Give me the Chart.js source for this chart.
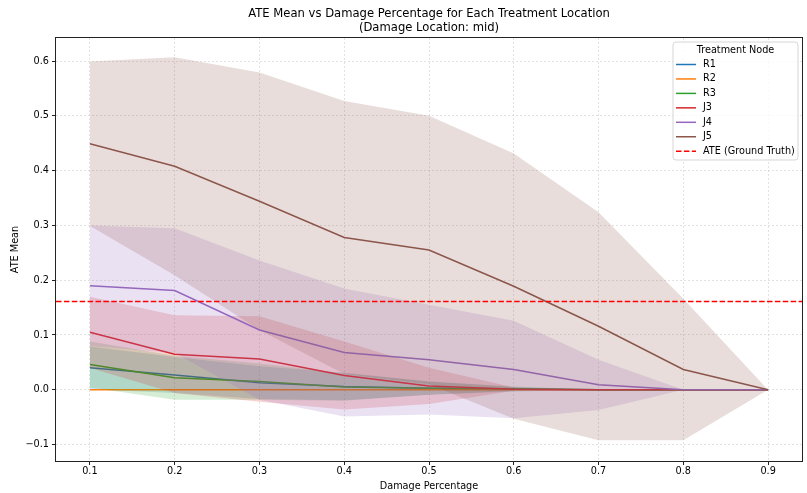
<!DOCTYPE html>
<html>
<head>
<meta charset="utf-8">
<script src="https://cdn.jsdelivr.net/npm/chart.js@4.4.1/dist/chart.umd.min.js"></script>
<style>
  html, body { margin: 0; padding: 0; background: #fff; }
  #wrap { width: 807px; height: 493px; }
</style>
</head>
<body>
<div id="wrap"><canvas id="chart" width="807" height="493"></canvas></div>
<script>
// damage percentage on the x axis
const damagePct = [0.1, 0.2, 0.3, 0.4, 0.5, 0.6, 0.7, 0.8, 0.9];

// ATE mean per treatment node, and the std used for the shaded band
const r1Mean = [0.040, 0.027, 0.013, 0.006, 0.003, 0.001, 0, 0, 0];
const r1Std  = [0.039, 0.033, 0.030, 0.025, 0.012, 0.004, 0, 0, 0];
const r2Mean = [0, 0, 0, 0, 0, 0, 0, 0, 0];
const r2Std  = [0, 0, 0, 0, 0, 0, 0, 0, 0];
const r3Mean = [0.046, 0.022, 0.015, 0.005, 0.003, 0.002, 0, 0, 0];
const r3Std  = [0.042, 0.040, 0.033, 0.025, 0.012, 0.004, 0, 0, 0];
const j3Mean = [0.105, 0.065, 0.056, 0.026, 0.007, 0.001, 0, 0, 0];
const j3Std  = [0.065, 0.071, 0.078, 0.062, 0.033, 0.003, 0, 0, 0];
const j4Mean = [0.190, 0.181, 0.109, 0.068, 0.055, 0.037, 0.009, 0, 0];
const j4Std  = [0.110, 0.114, 0.127, 0.117, 0.100, 0.089, 0.046, 0, 0];
const j5Mean = [0.449, 0.408, 0.344, 0.278, 0.255, 0.189, 0.116, 0.037, 0];
const j5Std  = [0.150, 0.199, 0.235, 0.249, 0.245, 0.242, 0.208, 0.129, 0];

const nodeNames = ['R1', 'R2', 'R3', 'J3', 'J4', 'J5'];
const nodeMeans = [r1Mean, r2Mean, r3Mean, j3Mean, j4Mean, j5Mean];
const nodeStds  = [r1Std, r2Std, r3Std, j3Std, j4Std, j5Std];
const nodeColors = ['#1f77b4', '#ff7f0e', '#2ca02c', '#d62728', '#9467bd', '#8c564b'];

const ateGroundTruth = 0.161;
const xTicks = [0.1, 0.2, 0.3, 0.4, 0.5, 0.6, 0.7, 0.8, 0.9];
const yTicks = [-0.1, 0, 0.1, 0.2, 0.3, 0.4, 0.5, 0.6];
const xMin = 0.06, xMax = 0.94;
const yMin = -0.13, yMax = 0.642;

const FONT = 'DejaVu Sans';
const SMALL = 9.7;

function hexToRgba(hex, a) {
  const n = parseInt(hex.slice(1), 16);
  return `rgba(${(n >> 16) & 255},${(n >> 8) & 255},${n & 255},${a})`;
}

const datasets = [];
let ord = 100;
nodeNames.forEach((name, k) => {
  const mean = nodeMeans[k], std = nodeStds[k], c = nodeColors[k];
  datasets.push({
    label: name,
    data: damagePct.map((x, i) => ({ x, y: mean[i] })),
    borderColor: c,
    borderWidth: 1.5,
    pointRadius: 0,
    fill: false,
    order: ord--
  });
  datasets.push({
    label: name + ' upper',
    data: damagePct.map((x, i) => ({ x, y: mean[i] + std[i] })),
    borderWidth: 0,
    borderColor: 'rgba(0,0,0,0)',
    pointRadius: 0,
    fill: false,
    order: ord--
  });
  datasets.push({
    label: name + ' lower',
    data: damagePct.map((x, i) => ({ x, y: mean[i] - std[i] })),
    borderWidth: 0,
    borderColor: 'rgba(0,0,0,0)',
    backgroundColor: hexToRgba(c, 0.2),
    pointRadius: 0,
    fill: '-1',
    order: ord--
  });
});
datasets.push({
  label: 'ATE (Ground Truth)',
  data: [{ x: xMin, y: ateGroundTruth }, { x: xMax, y: ateGroundTruth }],
  borderColor: '#ff0000',
  borderWidth: 1.5,
  borderDash: [5.5, 2.4],
  pointRadius: 0,
  fill: false,
  order: ord--
});

// frame, title and matplotlib-like legend
const decorations = {
  id: 'decorations',
  afterDraw(chart) {
    const { ctx, chartArea: a } = chart;
    ctx.save();
    ctx.strokeStyle = '#222';
    ctx.lineWidth = 1;
    ctx.strokeRect(Math.round(a.left) - 0.5, Math.round(a.top) - 0.5,
                   Math.round(a.right - a.left) + 1, Math.round(a.bottom - a.top) + 1);

    ctx.fillStyle = '#000';
    ctx.textAlign = 'center';
    ctx.textBaseline = 'middle';
    ctx.font = `11.6px "${FONT}"`;
    const cx = (a.left + a.right) / 2;
    ctx.fillText('ATE Mean vs Damage Percentage for Each Treatment Location', cx, 13.5);
    ctx.fillText('(Damage Location: mid)', cx, 27.5);

    // legend box
    const bx = 673, by = 42, bw = 125, bh = 118, r = 3;
    ctx.beginPath();
    ctx.moveTo(bx + r, by);
    ctx.arcTo(bx + bw, by, bx + bw, by + bh, r);
    ctx.arcTo(bx + bw, by + bh, bx, by + bh, r);
    ctx.arcTo(bx, by + bh, bx, by, r);
    ctx.arcTo(bx, by, bx + bw, by, r);
    ctx.closePath();
    ctx.fillStyle = 'rgba(255,255,255,0.8)';
    ctx.fill();
    ctx.strokeStyle = '#d6d6d6';
    ctx.lineWidth = 1;
    ctx.stroke();

    ctx.fillStyle = '#000';
    ctx.font = `${SMALL}px "${FONT}"`;
    ctx.fillText('Treatment Node', bx + bw / 2, 50);
    ctx.textAlign = 'left';
    const labels = nodeNames.concat(['ATE (Ground Truth)']);
    const cols = nodeColors.concat(['#ff0000']);
    labels.forEach((lab, i) => {
      const y = 64.5 + i * 14.45;
      ctx.beginPath();
      ctx.strokeStyle = cols[i];
      ctx.lineWidth = 1.5;
      ctx.setLineDash(i === 6 ? [5.5, 2.4] : []);
      ctx.moveTo(676, y);
      ctx.lineTo(696, y);
      ctx.stroke();
      ctx.setLineDash([]);
      ctx.fillStyle = '#000';
      ctx.fillText(lab, 703, y);
    });
    ctx.restore();
  }
};

const gridCommon = {
  color: 'rgba(200,200,200,0.65)',
  lineWidth: 0.8,
  drawTicks: true,
  tickLength: 4,
  tickColor: '#222',
  tickWidth: 1,
  tickBorderDash: []
};

new Chart(document.getElementById('chart'), {
  type: 'line',
  data: { datasets },
  options: {
    responsive: false,
    animation: false,
    devicePixelRatio: 1,
    layout: { padding: { top: 38, right: 5, left: 0, bottom: 0 } },
    plugins: {
      legend: { display: false },
      title: { display: false },
      tooltip: { enabled: false },
      filler: { propagate: false }
    },
    scales: {
      x: {
        type: 'linear',
        min: xMin,
        max: xMax,
        afterBuildTicks: s => { s.ticks = xTicks.map(v => ({ value: v })); },
        afterFit: s => { s.height = 32; },
        grid: gridCommon,
        border: { display: false, dash: [2, 2] },
        ticks: {
          padding: 1,
          color: '#000',
          font: { family: FONT, size: SMALL },
          maxRotation: 0,
          callback: v => v.toFixed(1)
        },
        title: {
          display: true,
          text: 'Damage Percentage',
          color: '#000',
          font: { family: FONT, size: SMALL },
          padding: { top: 0, bottom: 1 }
        }
      },
      y: {
        type: 'linear',
        min: yMin,
        max: yMax,
        afterBuildTicks: s => { s.ticks = yTicks.map(v => ({ value: v })); },
        afterFit: s => { s.width = 56; },
        grid: gridCommon,
        border: { display: false, dash: [2, 2] },
        ticks: {
          padding: 3,
          color: '#000',
          font: { family: FONT, size: SMALL },
          callback: v => (v < -1e-9 ? '\u2212' : '') + Math.abs(v).toFixed(1)
        },
        title: {
          display: true,
          text: 'ATE Mean',
          color: '#000',
          font: { family: FONT, size: SMALL },
          padding: { top: 10, bottom: 0 }
        }
      }
    }
  },
  plugins: [decorations]
});
</script>
</body>
</html>
